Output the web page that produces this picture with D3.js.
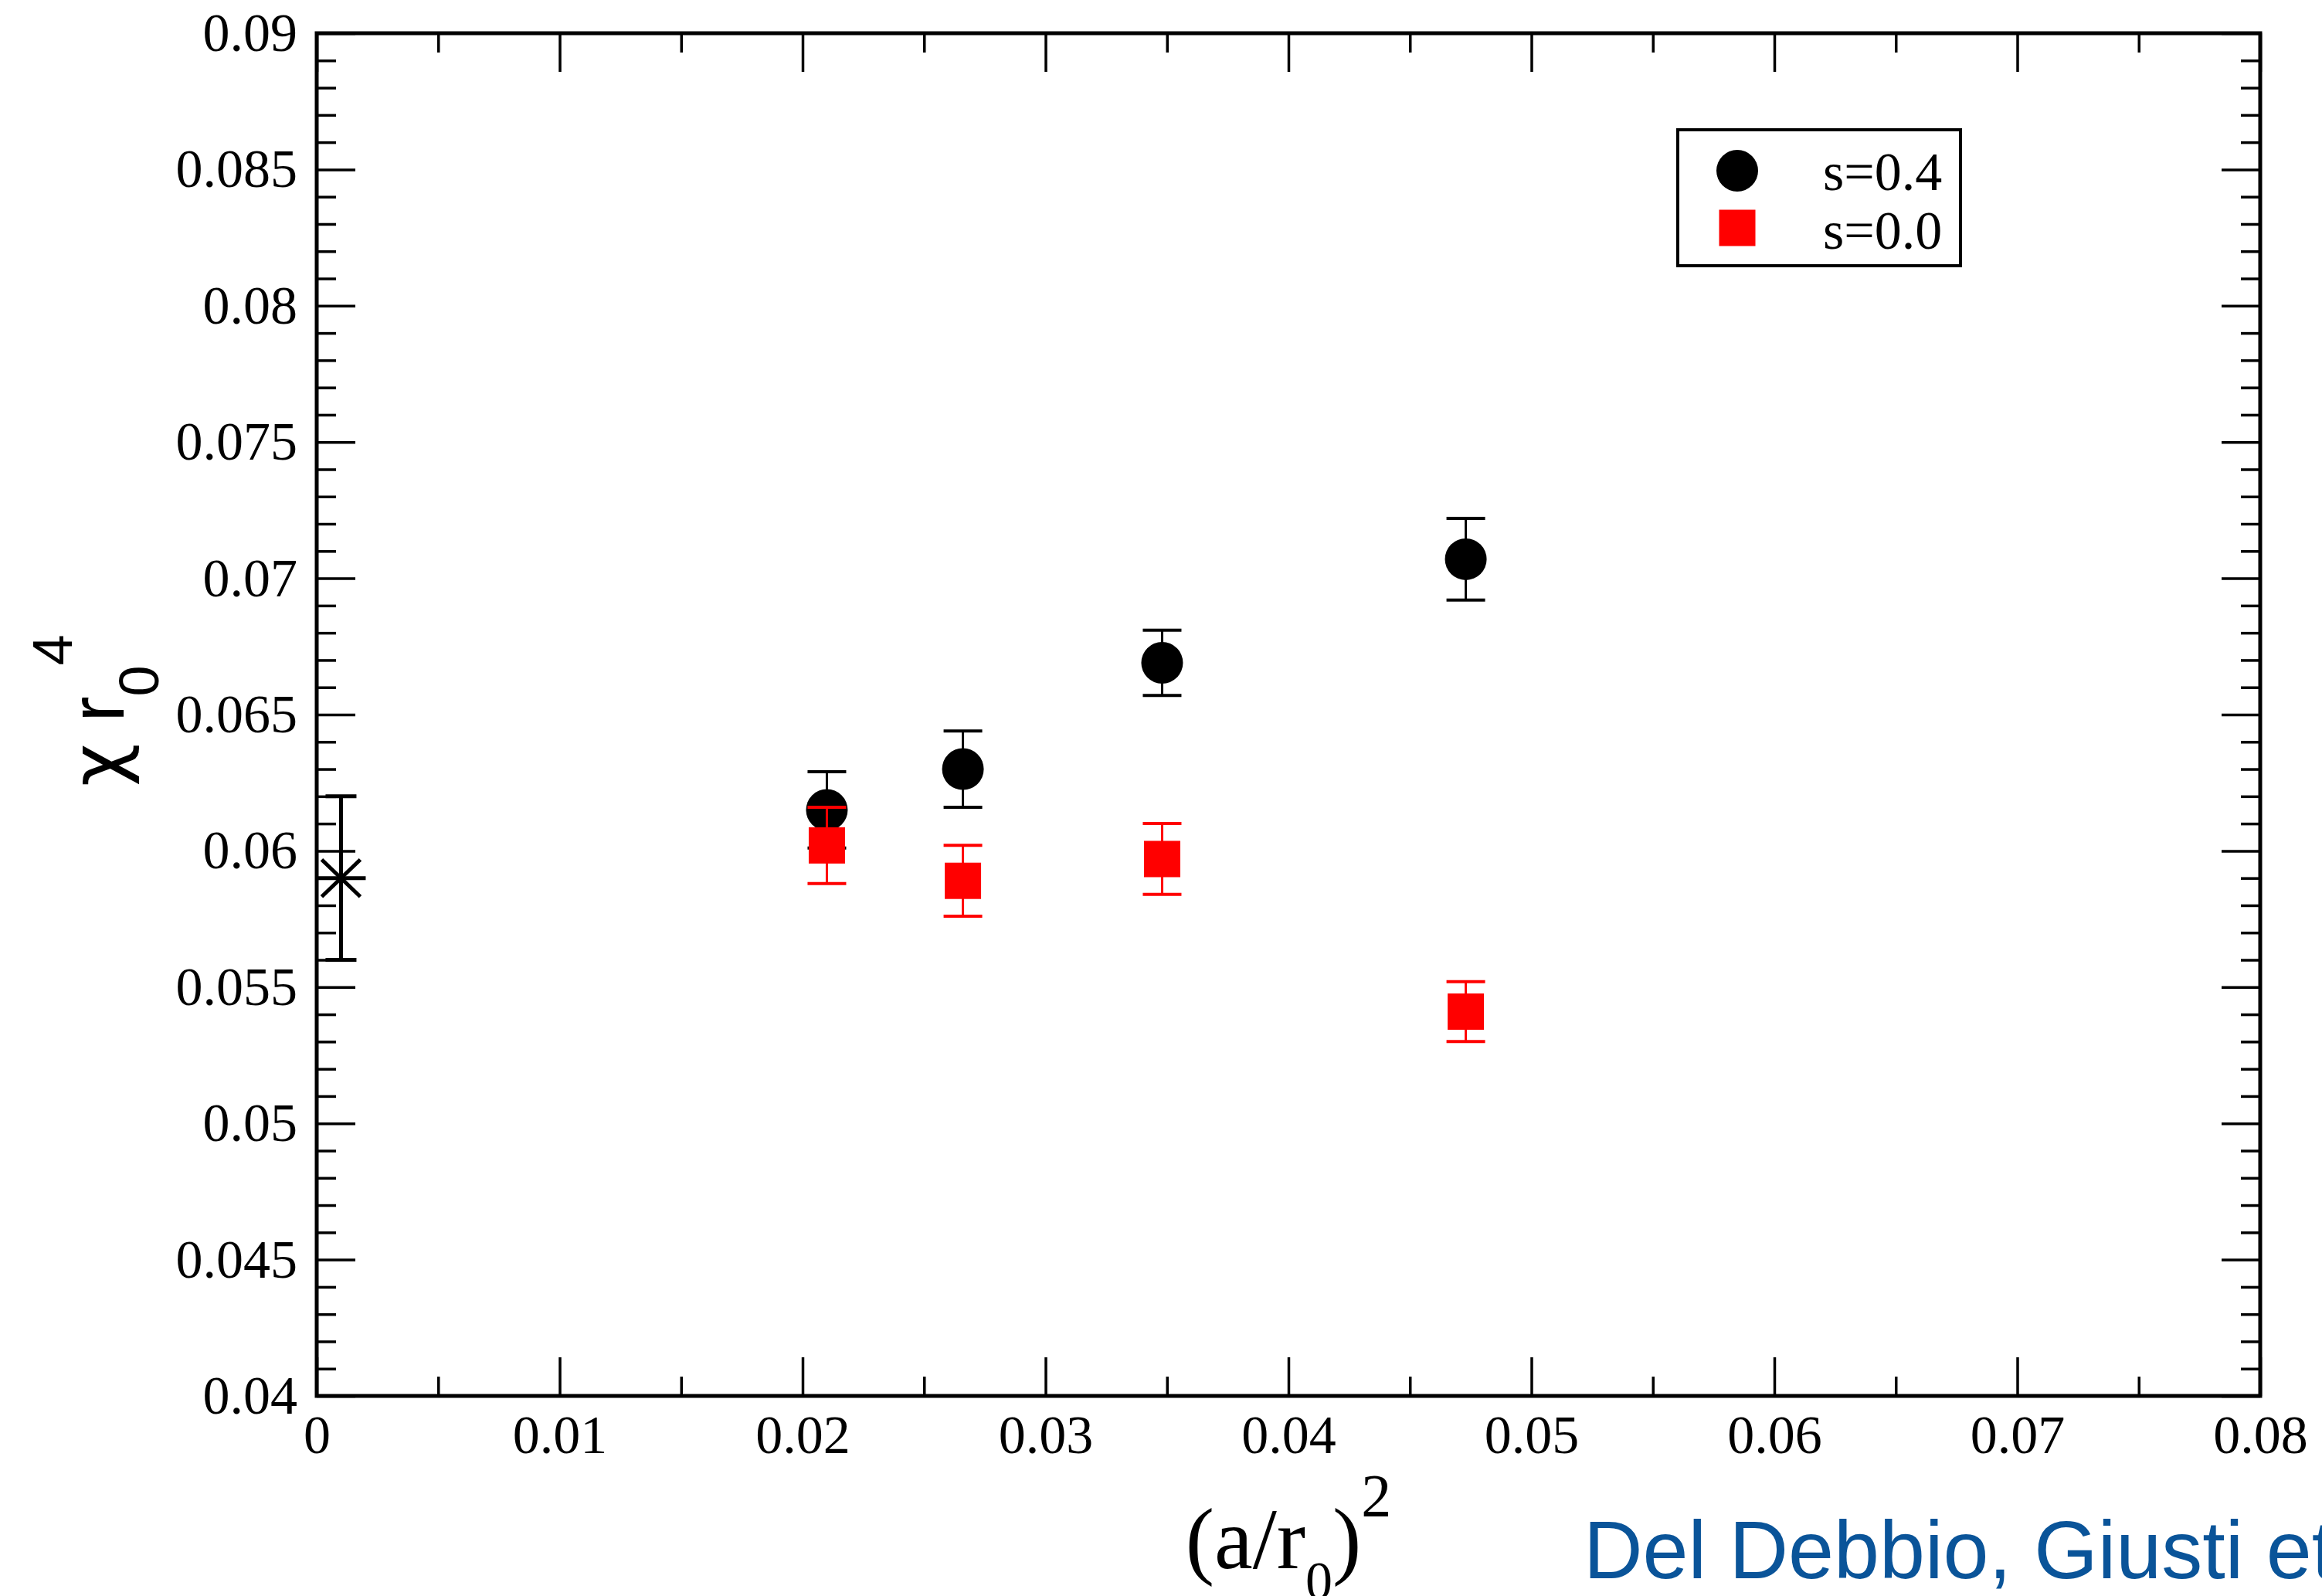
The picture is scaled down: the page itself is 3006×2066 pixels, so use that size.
<!DOCTYPE html>
<html>
<head>
<meta charset="utf-8">
<script src="https://cdn.jsdelivr.net/npm/d3@7"></script>
<style>
  html, body { margin: 0; padding: 0; background: #fff; }
  svg { display: block; }
</style>
</head>
<body>
<svg id="chart" width="3006" height="2066"></svg>
<script>
// chi r0^4 vs (a/r0)^2 - two smearing values plus continuum point

// tick values and labels
const xTickValues = [0, 0.01, 0.02, 0.03, 0.04, 0.05, 0.06, 0.07, 0.08];
const xTickLabels = ["0", "0.01", "0.02", "0.03", "0.04", "0.05", "0.06", "0.07", "0.08"];
const yTickValues = [0.04, 0.045, 0.05, 0.055, 0.06, 0.065, 0.07, 0.075, 0.08, 0.085, 0.09];
const yTickLabels = ["0.04", "0.045", "0.05", "0.055", "0.06", "0.065", "0.07", "0.075", "0.08", "0.085", "0.09"];

// data
const aSquared = [0.0210, 0.0266, 0.0348, 0.0473];
const chiS04 = [0.0615, 0.0630, 0.0669, 0.0707];
const errS04 = [0.0014, 0.0014, 0.0012, 0.0015];
const chiS00 = [0.0602, 0.0589, 0.0597, 0.0541];
const errS00 = [0.0014, 0.0013, 0.0013, 0.0011];
const continuumX = [0.001];
const continuumY = [0.059];
const continuumErr = [0.003];

const legendLabels = ["s=0.4", "s=0.0"];

const svg = d3.select("#chart");
svg.append("rect").attr("width", 3006).attr("height", 2066).attr("fill", "#fff");

const x = d3.scaleLinear().domain([0, 0.08]).range([410, 2926]);
const y = d3.scaleLinear().domain([0.04, 0.09]).range([1807, 43]);

const serif = "'Liberation Serif', 'Times New Roman', serif";
const sans = "'Liberation Sans', Arial, Helvetica, sans-serif";

const majorLen = 50, minorLen = 25;
const xMinor = d3.range(5, 80, 10).map(v => v / 1000);
const yMinor = d3.range(41, 90).filter(v => v % 5 !== 0).map(v => v / 1000);

function styleAxis(g, withText) {
  g.select(".domain").remove();
  g.selectAll(".tick line").attr("stroke", "#000").attr("stroke-width", 3.5);
  g.attr("font-family", serif).attr("font-size", 70);
  g.selectAll(".tick text").attr("fill", "#000");
  if (!withText) g.selectAll(".tick text").remove();
}

// bottom
svg.append("g")
  .attr("transform", `translate(0,${y(0.04)})`)
  .call(d3.axisBottom(x).tickValues(xTickValues)
    .tickFormat((d, i) => xTickLabels[i]).tickSize(-majorLen).tickPadding(24))
  .call(g => styleAxis(g, true));
svg.append("g")
  .attr("transform", `translate(0,${y(0.04)})`)
  .call(d3.axisBottom(x).tickValues(xMinor).tickSize(-minorLen))
  .call(g => styleAxis(g, false));

// top
svg.append("g")
  .attr("transform", `translate(0,${y(0.09)})`)
  .call(d3.axisTop(x).tickValues(xTickValues).tickSize(-majorLen))
  .call(g => styleAxis(g, false));
svg.append("g")
  .attr("transform", `translate(0,${y(0.09)})`)
  .call(d3.axisTop(x).tickValues(xMinor).tickSize(-minorLen))
  .call(g => styleAxis(g, false));

// left
svg.append("g")
  .attr("transform", `translate(${x(0)},0)`)
  .call(d3.axisLeft(y).tickValues(yTickValues)
    .tickFormat((d, i) => yTickLabels[i]).tickSize(-majorLen).tickPadding(25))
  .call(g => styleAxis(g, true));
svg.append("g")
  .attr("transform", `translate(${x(0)},0)`)
  .call(d3.axisLeft(y).tickValues(yMinor).tickSize(-minorLen))
  .call(g => styleAxis(g, false));

// right
svg.append("g")
  .attr("transform", `translate(${x(0.08)},0)`)
  .call(d3.axisRight(y).tickValues(yTickValues).tickSize(-majorLen))
  .call(g => styleAxis(g, false));
svg.append("g")
  .attr("transform", `translate(${x(0.08)},0)`)
  .call(d3.axisRight(y).tickValues(yMinor).tickSize(-minorLen))
  .call(g => styleAxis(g, false));

// frame
svg.append("rect")
  .attr("x", x(0)).attr("y", y(0.09))
  .attr("width", x(0.08) - x(0)).attr("height", y(0.04) - y(0.09))
  .attr("fill", "none").attr("stroke", "#000").attr("stroke-width", 5);

// error bars
function errorBars(xs, ys, es, color, capHalf, lw, capLw) {
  const g = svg.append("g").attr("stroke", color);
  const pts = xs.map((v, i) => ({ x: v, y: ys[i], e: es[i] }));
  g.selectAll(".ev").data(pts).join("line")
    .attr("x1", d => x(d.x)).attr("x2", d => x(d.x))
    .attr("y1", d => y(d.y - d.e)).attr("y2", d => y(d.y + d.e))
    .attr("stroke-width", lw);
  [-1, 1].forEach(s => {
    g.selectAll(".cap" + s).data(pts).join("line")
      .attr("x1", d => x(d.x) - capHalf).attr("x2", d => x(d.x) + capHalf)
      .attr("y1", d => y(d.y + s * d.e)).attr("y2", d => y(d.y + s * d.e))
      .attr("stroke-width", capLw);
  });
  return pts;
}

// s=0.4 black circles
const ptsS04 = errorBars(aSquared, chiS04, errS04, "#000", 25, 3, 4);
svg.append("g").selectAll("circle").data(ptsS04).join("circle")
  .attr("cx", d => x(d.x)).attr("cy", d => y(d.y)).attr("r", 27).attr("fill", "#000");

// s=0.0 red squares
const ptsS00 = errorBars(aSquared, chiS00, errS00, "#ff0000", 25, 3, 4);
svg.append("g").selectAll("rect").data(ptsS00).join("rect")
  .attr("x", d => x(d.x) - 23.5).attr("y", d => y(d.y) - 23.5)
  .attr("width", 47).attr("height", 47).attr("fill", "#ff0000");

// continuum point (asterisk)
const ptsC = errorBars(continuumX, continuumY, continuumErr, "#000", 20, 5, 5);
const star = svg.append("g").attr("stroke", "#000").attr("stroke-width", 5);
ptsC.forEach(d => {
  const cx = x(d.x), cy = y(d.y);
  star.append("line").attr("x1", cx - 32).attr("x2", cx + 32).attr("y1", cy).attr("y2", cy);
  star.append("line").attr("x1", cx).attr("x2", cx).attr("y1", cy - 30).attr("y2", cy + 30);
  star.append("line").attr("x1", cx - 25).attr("x2", cx + 25).attr("y1", cy - 24).attr("y2", cy + 24);
  star.append("line").attr("x1", cx - 25).attr("x2", cx + 25).attr("y1", cy + 24).attr("y2", cy - 24);
});

// legend
const legend = svg.append("g");
legend.append("rect").attr("x", 2172).attr("y", 168).attr("width", 366).attr("height", 176)
  .attr("fill", "#fff").attr("stroke", "#000").attr("stroke-width", 4);
legend.append("circle").attr("cx", 2249).attr("cy", 221).attr("r", 27).attr("fill", "#000");
legend.append("rect").attr("x", 2249 - 23.5).attr("y", 295 - 23.5)
  .attr("width", 47).attr("height", 47).attr("fill", "#ff0000");
legend.selectAll("text").data(legendLabels).join("text")
  .attr("x", 2360).attr("y", (d, i) => 246 + i * 76)
  .attr("font-family", serif).attr("font-size", 70).attr("fill", "#000")
  .text(d => d);

// x axis title (a/r0)^2
const xt = svg.append("text")
  .attr("x", (x(0) + x(0.08)) / 2).attr("y", 2030)
  .attr("text-anchor", "middle")
  .attr("font-family", serif).attr("font-size", 112).attr("fill", "#000");
xt.append("tspan").text("(a/r");
xt.append("tspan").attr("font-size", 70).attr("dy", 40).text("0");
xt.append("tspan").attr("dy", -40).text(")");
xt.append("tspan").attr("font-size", 78).attr("dy", -68).text("2");

// y axis title chi r0^4
const yt = svg.append("text")
  .attr("transform", "translate(160,1018) rotate(-90)")
  .attr("font-family", sans).attr("font-size", 100).attr("fill", "#000");
yt.append("tspan").attr("font-family", "'DejaVu Sans', sans-serif").attr("font-size", 96).text("\u03c7");
yt.append("tspan").text(" r");
yt.append("tspan").attr("font-size", 72).attr("dy", 45).text("0");
yt.append("tspan").attr("font-size", 72).attr("dy", -112).text("4");

// citation
svg.append("text")
  .attr("x", 2050).attr("y", 2043)
  .attr("font-family", sans).attr("font-size", 106).attr("fill", "#0a5499")
  .text("Del Debbio, Giusti et al.");
</script>
</body>
</html>
